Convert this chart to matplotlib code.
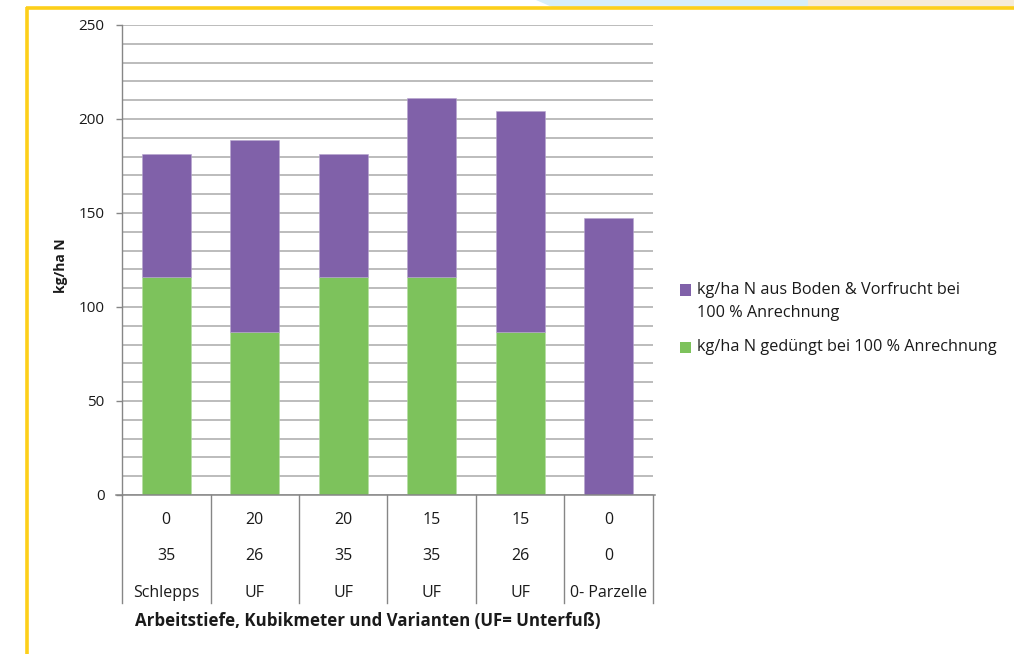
import matplotlib
matplotlib.use("Agg")
import matplotlib.pyplot as plt
from matplotlib.patches import Rectangle, Polygon
from matplotlib.lines import Line2D
from matplotlib.transforms import blended_transform_factory
import numpy as np

plt.rcParams['font.family'] = ['Open Sans', 'DejaVu Sans']

# Data
tiefe = ["0", "20", "20", "15", "15", "0"]
kubikmeter = ["35", "26", "35", "35", "26", "0"]
varianten = ["Schlepps", "UF", "UF", "UF", "UF", "0- Parzelle"]
gedungt = [116, 86.5, 116, 116, 86.5, 0]
boden_vorfrucht = [65.5, 102.5, 65.5, 95, 118, 147.5]

legend_lines = [["kg/ha N aus Boden & Vorfrucht bei", "100 % Anrechnung"],
                ["kg/ha N gedüngt bei 100 % Anrechnung"]]
y_label = "kg/ha N"
x_label = "Arbeitstiefe, Kubikmeter und Varianten (UF= Unterfuß)"

PURPLE = "#8061A9"
GREEN = "#7DC25C"
GRID = "#A9A9A9"
AXIS = "#868686"
TEXT = "#1A1A1A"
YELLOW = "#FDCF1A"

W, H = 1014, 654
fig = plt.figure(figsize=(W / 100, H / 100), dpi=100)
fig.patch.set_facecolor("white")


def fx(px):
    return px / W


def fy(py):
    return 1 - py / H


# Page decoration: coloured band and yellow frame
fig.add_artist(Polygon([[fx(536), fy(0)], [fx(808), fy(0)], [fx(808), fy(7)], [fx(552), fy(7)]],
                       closed=True, transform=fig.transFigure, facecolor="#D7EEF9", edgecolor="none"))
fig.add_artist(Rectangle((fx(808), fy(7)), fx(W - 808), fy(0) - fy(7),
                         transform=fig.transFigure, facecolor="#F6EBD7", edgecolor="none"))
fig.add_artist(Line2D([fx(26), fx(W)], [fy(7.5), fy(7.5)], transform=fig.transFigure,
                      color=YELLOW, lw=2.6, solid_capstyle="butt"))
fig.add_artist(Line2D([fx(27), fx(27)], [fy(6.5), fy(H)], transform=fig.transFigure,
                      color=YELLOW, lw=2.6, solid_capstyle="butt"))

ax = fig.add_axes([fx(122), fy(495), fx(653) - fx(122), fy(25) - fy(495)])
x = np.arange(len(gedungt))
ax.bar(x, gedungt, width=0.55, color=GREEN, edgecolor="#B5DDA3", linewidth=0.4, zorder=3)
ax.bar(x, boden_vorfrucht, width=0.55, bottom=gedungt, color=PURPLE,
       edgecolor="#B7A5CF", linewidth=0.4, zorder=3)

ax.set_xlim(-0.5, len(x) - 0.5)
ax.set_ylim(0, 250)
ax.set_yticks(np.arange(0, 251, 50))
ax.set_yticks(np.arange(0, 251, 10), minor=True)
ax.tick_params(axis="y", which="major", length=4.5, width=1, color=AXIS, pad=8,
               labelsize=11, labelcolor=TEXT)
ax.tick_params(axis="y", which="minor", length=0)
ax.set_xticks([])
ax.yaxis.grid(True, which="both", color=GRID, lw=1.1, zorder=0)
ax.set_axisbelow(True)
for s in ["top", "right", "bottom"]:
    ax.spines[s].set_visible(False)
ax.spines["left"].set_color(AXIS)
ax.spines["left"].set_linewidth(1)

# Category table below the axis
tr = blended_transform_factory(ax.transData, fig.transFigure)
fig.add_artist(Line2D([-0.5 - 0.07, len(x) - 0.5 + 0.02], [fy(495), fy(495)], transform=tr,
                      color=AXIS, lw=1.1, clip_on=False))
for b in np.arange(-0.5, len(x), 1.0):
    fig.add_artist(Line2D([b, b], [fy(495), fy(603)], transform=tr, color=AXIS,
                          lw=1, clip_on=False))
for i in x:
    for row, py in ((tiefe, 520), (kubikmeter, 556), (varianten, 593)):
        fig.text(i, fy(py), row[i], transform=tr, ha="center", va="center",
                 fontsize=11.5, color=TEXT)

fig.text(fx(368), fy(621), x_label, ha="center", va="center", fontsize=12.2,
         fontweight="bold", color=TEXT)
fig.text(fx(61), fy(266), y_label, ha="center", va="center", rotation=90,
         fontsize=10, fontweight="bold", color=TEXT)

# Legend
for color, lines, py in ((PURPLE, legend_lines[0], 290), (GREEN, legend_lines[1], 347)):
    fig.add_artist(Rectangle((fx(680), fy(py + 5.5)), fx(11), fy(0) - fy(11),
                             transform=fig.transFigure, facecolor=color, edgecolor="none"))
    for k, line in enumerate(lines):
        fig.text(fx(697), fy(py + 23 * k), line, ha="left", va="center",
                 fontsize=11.7, color=TEXT)

fig.savefig("out.png", dpi=100)
